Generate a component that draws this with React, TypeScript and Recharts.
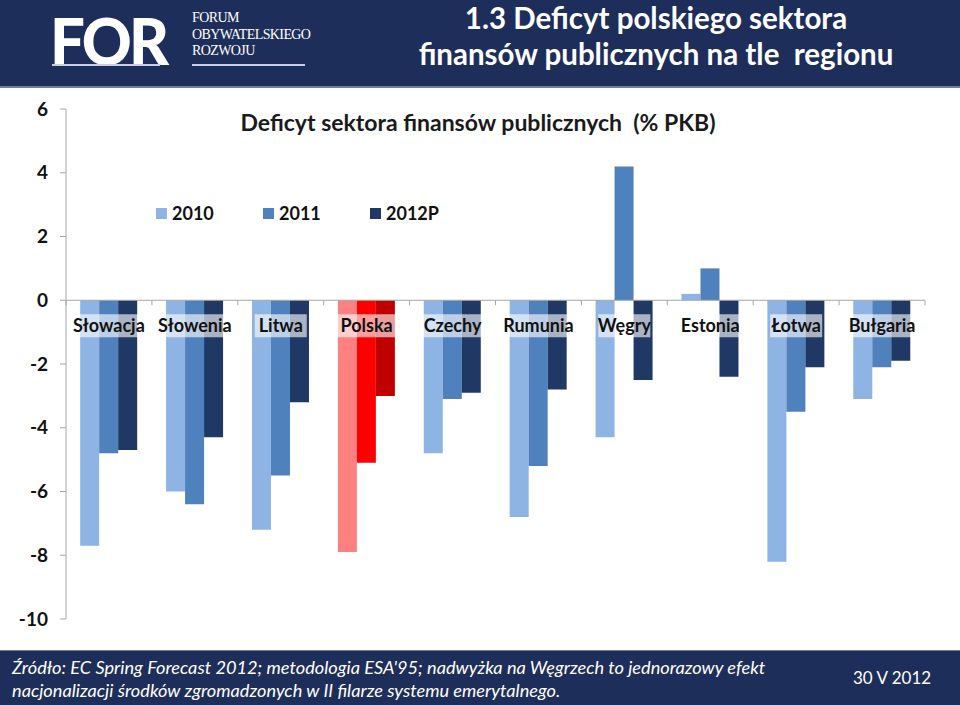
import React from "react";
import { BarChart, Bar, Cell, XAxis, YAxis, ReferenceLine } from "recharts";

// ─── Data ─────────────────────────────────────────────────
const categories = ["Słowacja", "Słowenia", "Litwa", "Polska", "Czechy", "Rumunia", "Węgry", "Estonia", "Łotwa", "Bułgaria"];
const deficit2010 = [-7.7, -6.0, -7.2, -7.9, -4.8, -6.8, -4.3, 0.2, -8.2, -3.1];
const deficit2011 = [-4.8, -6.4, -5.5, -5.1, -3.1, -5.2, 4.2, 1.0, -3.5, -2.1];
const deficit2012 = [-4.7, -4.3, -3.2, -3.0, -2.9, -2.8, -2.5, -2.4, -2.1, -1.9];
const yTicks = [-10, -8, -6, -4, -2, 0, 2, 4, 6];
const highlighted = "Polska";

const seriesDefs = [
  { key: "y2010", label: "2010", color: "#8eb4e3", hl: "#ff8080" },
  { key: "y2011", label: "2011", color: "#4f81bd", hl: "#ff0000" },
  { key: "y2012", label: "2012P", color: "#1f3864", hl: "#c00000" },
];

const data = categories.map((name, i) => ({
  name,
  y2010: deficit2010[i],
  y2011: deficit2011[i],
  y2012: deficit2012[i],
}));

// ─── Layout ───────────────────────────────────────────────
const W = 960;
const H = 705;
const NAVY = "#1e2e5a";
const FONT = "Lato, 'Open Sans', sans-serif";
const Y_MIN = -10;
const Y_MAX = 6;
const X_AXIS_H = 1;
const MARGIN = { top: 109, right: 35, bottom: 86 - X_AXIS_H, left: 0 };
const Y_AXIS_W = 66;
const PLOT_H = H - MARGIN.top - MARGIN.bottom - X_AXIS_H;
const PLOT_W = W - MARGIN.left - MARGIN.right - Y_AXIS_W;
const ZERO_Y = MARGIN.top + (PLOT_H * Y_MAX) / (Y_MAX - Y_MIN);

function CategoryTick({ x, payload, index }: any) {
  const band = PLOT_W / categories.length;
  const label = String(payload.value);
  const w = label.length * 9.6 + 4;
  return (
    <g>
      <line x1={ x - band / 2 } x2={ x - band / 2 } y1={ ZERO_Y } y2={ ZERO_Y + 5 } stroke="#a6a6a6" />
      { index === categories.length - 1 && (
        <line x1={ x + band / 2 } x2={ x + band / 2 } y1={ ZERO_Y } y2={ ZERO_Y + 5 } stroke="#a6a6a6" />
      ) }
      <rect x={ x - w / 2 } y={ ZERO_Y + 14 } width={ w } height={ 23 } fill="#ffffff" fillOpacity={ 0.62 } />
      <text
        x={ x }
        y={ ZERO_Y + 25 }
        textAnchor="middle"
        dominantBaseline="central"
        fontFamily={ FONT }
        fontWeight={ 700 }
        fontSize={ 18 }
        fill="#111"
      >
        { label }
      </text>
    </g>
  );
}

function LegendBox() {
  return (
    <div style={ { position: "absolute", left: 156, top: 202, display: "flex", fontFamily: FONT, fontWeight: 700, fontSize: 18, color: "#111" } }>
      { seriesDefs.map(s => (
        <div key={ s.key } style={ { display: "flex", alignItems: "center", width: 107 } }>
          <span style={ { width: 11, height: 11, background: s.color, marginRight: 5 } } />
          <span>{ s.label }</span>
        </div>
      )) }
    </div>
  );
}

// ─── Logo ─────────────────────────────────────────────────
function Logo() {
  const sx = 0.95;
  return (
    <svg width={ 330 } height={ 86 } style={ { position: "absolute", left: 0, top: 0 } }>
      <text
        x={ 50 / sx }
        y={ 65 }
        transform={ `scale(${sx},1)` }
        fontFamily={ FONT }
        fontWeight={ 900 }
        fontSize={ 65 }
        letterSpacing={ -3 }
        fill="#fff"
      >
        FOR
      </text>
      <rect x={ 52 } y={ 64 } width={ 108 } height={ 2 } fill="#c9cfdc" />
      <rect x={ 192 } y={ 64 } width={ 113 } height={ 2 } fill="#c9cfdc" />
    </svg>
  );
}

export default function App() {
  return (
    <div style={ { position: "absolute", left: 0, top: 0, width: W, height: H, background: "#fff", overflow: "hidden" } }>
      {/* header */ }
      <div style={ { position: "absolute", left: 0, top: 0, width: W, height: 86, background: NAVY, borderBottom: "2px solid #6f7f9a" } }>
        <Logo />
        <div style={ { position: "absolute", left: 192, top: 10, fontFamily: "'Liberation Serif', serif", fontSize: 14, lineHeight: "16.5px", color: "#fff", letterSpacing: -0.6 } }>
          FORUM<br />OBYWATELSKIEGO<br />ROZWOJU
        </div>
        <div style={ { position: "absolute", left: 380, top: 0, width: 552, textAlign: "center", fontFamily: FONT, fontWeight: 700, fontSize: 29.5, lineHeight: "36px", color: "#fff" } }>
          1.3 Deficyt polskiego sektora<br />finansów publicznych na tle&nbsp; regionu
        </div>
      </div>

      {/* chart title */ }
      <div style={ { position: "absolute", left: 0, top: 108, width: W - 4, textAlign: "center", fontFamily: FONT, fontWeight: 700, fontSize: 23, color: "#1a1a1a" } }>
        Deficyt sektora finansów publicznych&nbsp; (% PKB)
      </div>

      <LegendBox />

      <div style={ { position: "absolute", left: 0, top: 0 } }>
        <BarChart
          width={ W }
          height={ H }
          data={ data }
          margin={ MARGIN }
          barCategoryGap="16.5%"
          barGap={ 0 }
        >
          <YAxis
            domain={ [ Y_MIN, Y_MAX ] }
            ticks={ yTicks }
            width={ Y_AXIS_W }
            axisLine={ { stroke: "#a6a6a6" } }
            tickLine={ { stroke: "#a6a6a6" } }
            tickSize={ 6 }
            tickMargin={ 12 }
            tick={ { fontFamily: FONT, fontWeight: 700, fontSize: 19, fill: "#111" } }
            interval={ 0 }
            allowDataOverflow
          />
          { seriesDefs.map(s => (
            <Bar key={ s.key } dataKey={ s.key } name={ s.label } fill={ s.color } isAnimationActive={ false }>
              { data.map(d => (
                <Cell key={ d.name } fill={ d.name === highlighted ? s.hl : s.color } />
              )) }
            </Bar>
          )) }
          <ReferenceLine y={ 0 } stroke="#a6a6a6" />
          <XAxis
            dataKey="name"
            height={ X_AXIS_H }
            axisLine={ false }
            tickLine={ false }
            tick={ (props: any) => <CategoryTick { ...props } /> }
            interval={ 0 }
          />
        </BarChart>
      </div>

      {/* footer */ }
      <div style={ { position: "absolute", left: 0, top: 650, width: W, height: 55, background: NAVY, borderTop: "1px solid #6f7f9a" } }>
        <div style={ { position: "absolute", left: 12, top: 5, fontFamily: FONT, fontStyle: "italic", fontSize: 18.2, lineHeight: "23px", color: "#fff", whiteSpace: "nowrap" } }>
          Źródło: EC Spring Forecast 2012; metodologia ESA'95; nadwyżka na Węgrzech to jednorazowy efekt<br />
          nacjonalizacji środków zgromadzonych w II filarze systemu emerytalnego.
        </div>
        <div style={ { position: "absolute", left: 853, top: 16, fontFamily: FONT, fontSize: 17, color: "#fff" } }>
          30 V 2012
        </div>
      </div>
    </div>
  );
}
